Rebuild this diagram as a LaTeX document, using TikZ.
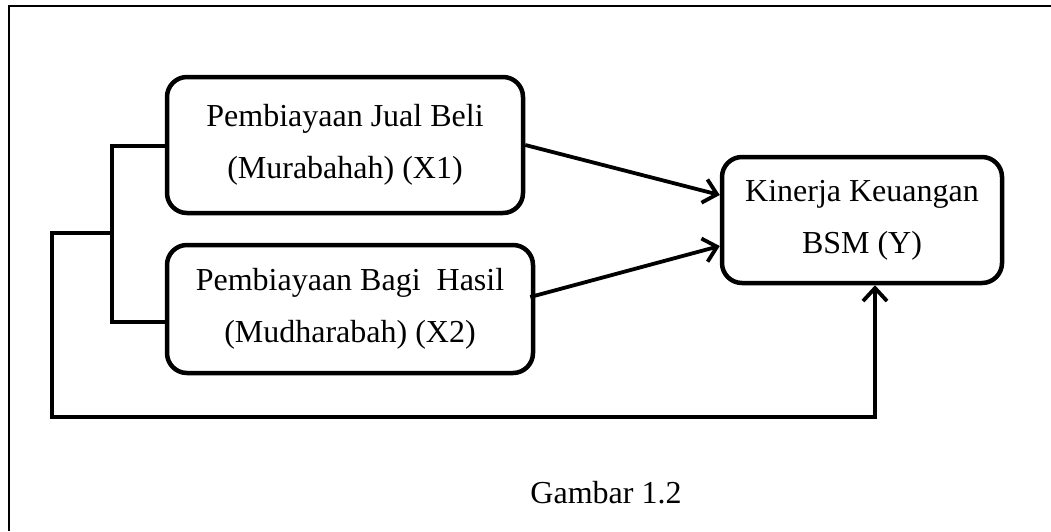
\documentclass[tikz,border=0pt]{standalone}
\usepackage{fontspec}
\setmainfont{Liberation Serif}
\usetikzlibrary{arrows.meta,calc}
\tikzset{
  box/.style={draw, line width=4.5pt, rounded corners=20pt, align=center,
    font=\fontsize{32}{52}\selectfont, inner sep=0pt},
  conn/.style={line width=3.8pt},
  arr/.style={conn, -{Straight Barb[length=13pt,width=24pt,line width=3.8pt]}},
  lbl/.style={font=\fontsize{32}{52}\selectfont, inner sep=0pt}
}
\begin{document}
\begin{tikzpicture}[x=1pt,y=-1pt]
\useasboundingbox (0,0) rectangle (1051,531);
% outer frame (partially visible)
\draw[line width=2.5pt] (9,531) -- (9,6) -- (1051,6);
% boxes
\node[box, minimum width=356pt, minimum height=136pt] (b1) at (345,145)
  {Pembiayaan Jual Beli\\(Murabahah) (X1)};
\node[box, minimum width=366pt, minimum height=128pt] (b2) at (350,309)
  {Pembiayaan Bagi\ \ Hasil\\(Mudharabah) (X2)};
\node[box, minimum width=280pt, minimum height=126pt] (y) at (862,220)
  {Kinerja Keuangan\\BSM (Y)};
% arrows to Y
\draw[arr] (b1.east) -- ($(y.west)+(0,-25)$);
\coordinate (s2) at ($(b2.east)+(-5,-12)$);
\draw[arr] (s2) -- ($(y.west)+(0,26)$);
% bracket
\coordinate (t1) at (112,146);
\coordinate (t2) at (112,322);
\coordinate (m) at (112,233);
\coordinate (o1) at (52,233);
\coordinate (o2) at (52,417);
\coordinate (o3) at (875,417);
\draw[conn] (b1.west |- t1) -- (t1) -- (t2) -- (b2.west |- t2);
\draw[arr] (m) -- (o1) -- (o2) -- (o3) -- (o3 |- y.south);
% caption
\node[lbl, anchor=base] (cap) at (606,503) {Gambar 1.2};
\end{tikzpicture}
\end{document}
